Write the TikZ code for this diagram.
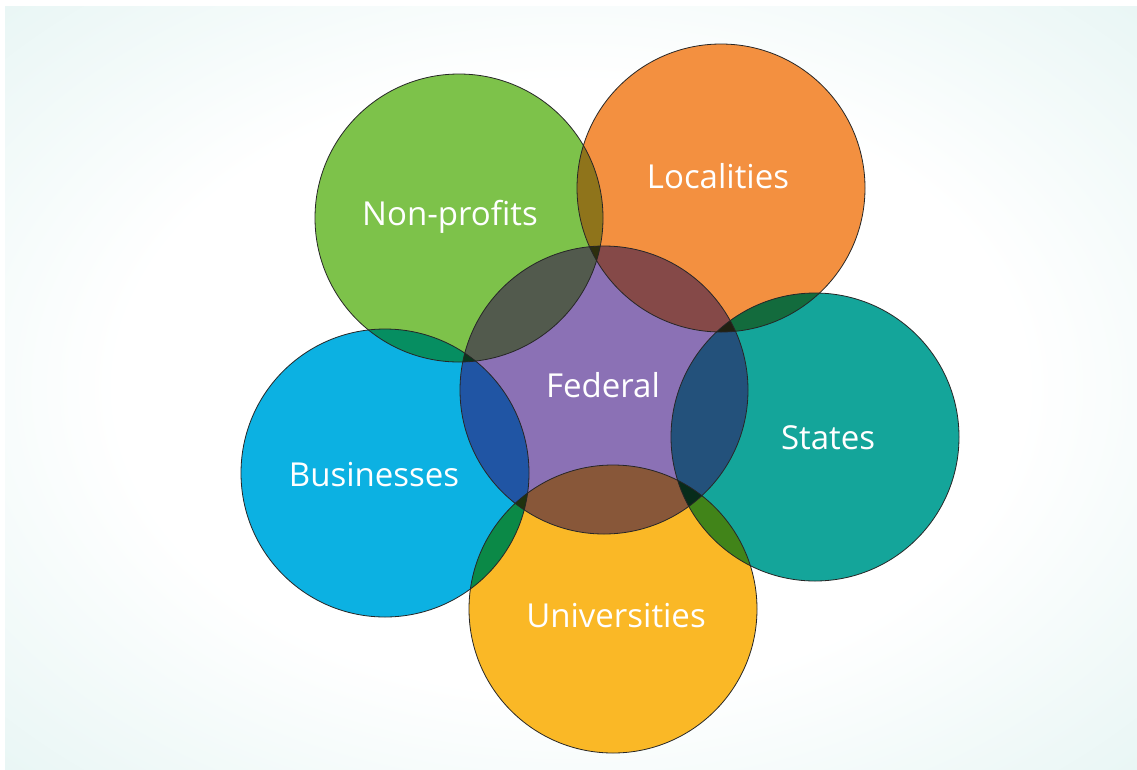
\documentclass[tikz,border=0pt]{standalone}
\usepackage{fontspec}
\setmainfont{Open Sans}
\definecolor{bgteal}{RGB}{218,240,238}
\definecolor{cgreen}{RGB}{125,194,74}
\definecolor{corange}{RGB}{243,144,64}
\definecolor{cteal}{RGB}{20,165,154}
\definecolor{cyellow}{RGB}{250,184,38}
\definecolor{cblue}{RGB}{12,177,226}
\definecolor{cpurple}{RGB}{139,113,181}
\pgfdeclareradialshading{bgshade}{\pgfpoint{0bp}{0bp}}{color(0bp)=(white); color(20bp)=(white); color(46bp)=(bgteal); color(100bp)=(bgteal)}
\newcommand\myovl[3]{\begin{scope}\clip (#2.center) circle[radius=144pt];
  \fill[#3, blend mode=multiply, fill opacity=0.8] (#1.center) circle[radius=144pt];\end{scope}}
\begin{document}
\begin{tikzpicture}[x=1pt,y=-1pt,
  circ/.style={circle, minimum size=288pt, inner sep=0pt},
  rim/.style={draw=black!85, line width=0.8pt},
  lbl/.style={text=white, anchor=base, inner sep=0pt, font=\fontsize{33}{33}\selectfont}]
\useasboundingbox (0,0) rectangle (1137,769);
\fill[white] (0,0) rectangle (1137,769);
\shade[shading=bgshade] (5,6) rectangle (1137,769);
\node[circ, fill=cgreen]  (np)  at (459,218) {};
\node[circ, fill=corange] (loc) at (721,188) {};
\node[circ, fill=cteal]   (st)  at (815,437) {};
\node[circ, fill=cyellow] (uni) at (613,609) {};
\node[circ, fill=cblue]   (bus) at (385,473) {};
\node[circ, fill=cpurple] (fed) at (604,390) {};
\myovl{np}{loc}{cgreen}
\myovl{np}{fed}{cgreen}
\myovl{np}{bus}{cgreen}
\myovl{loc}{fed}{corange}
\myovl{loc}{st}{corange}
\myovl{st}{fed}{cteal}
\myovl{st}{uni}{cteal}
\myovl{uni}{fed}{cyellow}
\myovl{uni}{bus}{cyellow}
\myovl{bus}{fed}{cblue}
\foreach \c in {np,loc,st,uni,bus,fed} \draw[rim] (\c.center) circle[radius=144pt];
\node[lbl] (tnp)  at (450,225) {Non-profits};
\node[lbl] (tloc) at (718,188) {Localities};
\node[lbl] (tfed) at (603,397) {Federal};
\node[lbl] (tst)  at (828,449) {States};
\node[lbl] (tbus) at (374,486) {Businesses};
\node[lbl] (tuni) at (616,627) {Universities};
\end{tikzpicture}
\end{document}
